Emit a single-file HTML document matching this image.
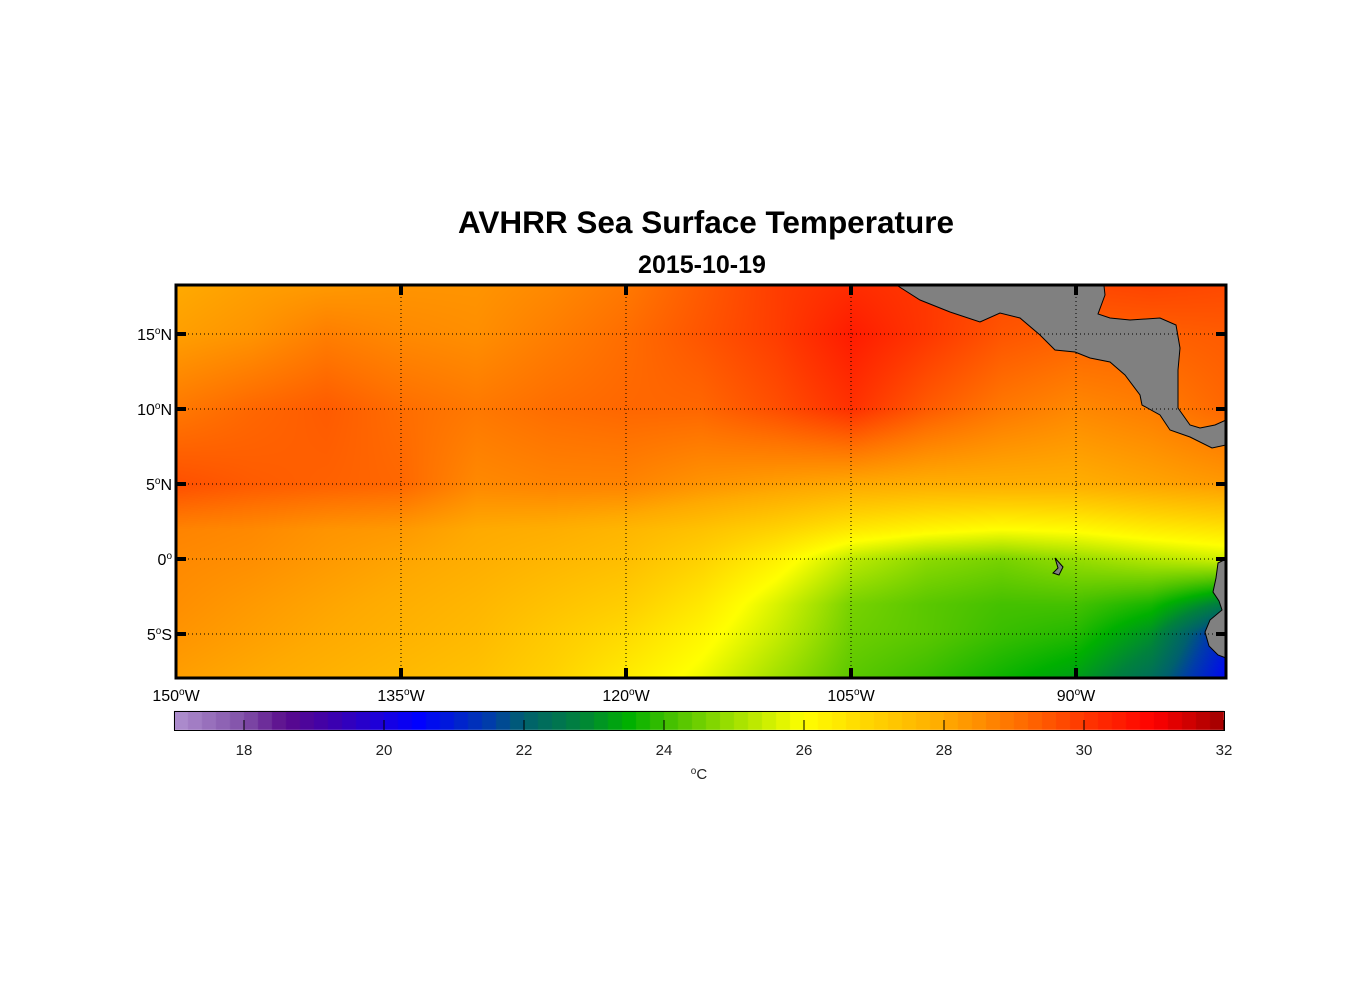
<!DOCTYPE html>
<html><head><meta charset="utf-8">
<style>
html,body{margin:0;padding:0;background:#fff;}
body{width:1356px;height:1000px;position:relative;overflow:hidden;font-family:"Liberation Sans",Arial,sans-serif;}
#title{position:absolute;left:0;width:1412px;top:204px;text-align:center;font-size:31.5px;font-weight:bold;color:#000;}
#subtitle{position:absolute;left:0;width:1404px;top:251px;text-align:center;font-size:25px;font-weight:bold;color:#000;}
canvas{position:absolute;left:0;top:0;}
svg{position:absolute;left:0;top:0;}
</style></head>
<body>
<div id="title">AVHRR Sea Surface Temperature</div>
<div id="subtitle">2015-10-19</div>
<canvas id="map" width="1356" height="1000"></canvas>
<svg id="ov" width="1356" height="1000"></svg>
<script>
// Data grid: longitudes (deg W), latitudes (deg N), SST values (°C)
const lons = [150,145,140,135,130,125,120,115,110,105,100,95,90,85,80];
const lats = [18.3,15,10,5,2,0,-3,-5,-8];
const row18 = [28.0,28.2,28.3,28.4,28.4,28.6,28.9,29.4,29.9,30.2,30.0,29.7,29.7,29.8,29.7];
const row15 = [28.2,28.4,28.8,28.6,28.5,28.8,29.1,29.5,29.9,30.5,30.0,29.5,29.3,29.3,29.4];
const row10 = [28.9,29.2,29.4,29.1,28.9,29.1,29.2,29.2,29.6,30.1,29.4,28.9,28.6,28.8,29.2];
const row5  = [29.6,29.4,29.3,29.2,28.6,28.7,28.7,28.4,28.2,28.0,27.9,27.9,27.9,28.1,28.3];
const row2  = [28.7,28.6,28.4,28.3,28.0,27.9,27.7,27.4,27.0,26.5,26.2,26.0,26.1,26.4,26.6];
const row0  = [28.6,28.5,28.3,28.1,27.9,27.7,27.5,27.0,26.3,25.3,24.8,24.6,24.9,25.2,25.5];
const rowS3 = [28.5,28.3,28.1,27.9,27.7,27.4,27.1,26.5,25.6,24.6,24.3,24.1,24.1,23.7,22.6];
const rowS5 = [28.4,28.2,28.0,27.8,27.6,27.2,26.8,26.2,25.4,24.5,24.3,24.0,23.8,23.0,21.0];
const rowS8 = [28.2,28.0,27.8,27.6,27.4,27.0,26.4,25.8,25.0,24.3,24.0,23.6,23.2,22.3,20.6];
const sst = [row18,row15,row10,row5,row2,row0,rowS3,rowS5,rowS8];
const cbTicks = [18,20,22,24,26,28,30,32];
const lonTicks = [150,135,120,105,90];
const latTicks = [15,10,5,0,-5];

// axis functions
const X0=176, X1=1226, Y0=285, Y1=678;
const xOf = lw => X0 + (150-lw)*15;
const yOf = la => 559 - la*15;
const cbX = v => 174 + (v-17)*70;

const stops=[[17,[176,144,208]],[18,[128,80,168]],[18.6,[90,10,140]],[19.2,[64,0,170]],[20.5,[0,0,255]],[21.5,[0,60,170]],[22,[0,96,110]],[22.8,[0,130,60]],[23.5,[0,176,0]],[24.2,[80,196,0]],[25,[160,224,0]],[26,[255,255,0]],[27,[255,210,0]],[28,[255,170,0]],[29,[255,115,0]],[30,[255,55,0]],[31,[255,0,0]],[32,[160,0,0]]];
function cmap(v){
  if(v<=stops[0][0])return stops[0][1];
  for(let i=1;i<stops.length;i++){if(v<=stops[i][0]){const a=stops[i-1],b=stops[i];const t=(v-a[0])/(b[0]-a[0]);return [0,1,2].map(k=>Math.round(a[1][k]+(b[1][k]-a[1][k])*t));}}
  return stops[stops.length-1][1];
}
function findIdx(arr,v){
  for(let i=0;i<arr.length-1;i++){const a=arr[i],b=arr[i+1];if(v<=a&&v>=b)return [i,(a-v)/(a-b)];}
  return v>arr[0]?[0,0]:[arr.length-2,1];
}
const cv=document.getElementById('map');const ctx=cv.getContext('2d');
const W=X1-X0,H=Y1-Y0;const img=ctx.createImageData(W,H);
for(let py=0;py<H;py++){
  const la=(559-(Y0+py))/15;const [j,ty]=findIdx(lats,la);
  for(let px=0;px<W;px++){
    const lw=150-px/15;const [i,tx]=findIdx(lons,lw);
    const v=(sst[j][i]*(1-tx)+sst[j][i+1]*tx)*(1-ty)+(sst[j+1][i]*(1-tx)+sst[j+1][i+1]*tx)*ty;
    const c=cmap(v);const o=(py*W+px)*4;img.data[o]=c[0];img.data[o+1]=c[1];img.data[o+2]=c[2];img.data[o+3]=255;
  }
}
ctx.putImageData(img,X0,Y0);
// colorbar (discrete bands)
for(let k=0;k<75;k++){const v=17+k*0.2;const c=cmap(v+0.1);ctx.fillStyle=`rgb(${c})`;const x0=Math.round(cbX(v)),x1=Math.round(cbX(v+0.2));ctx.fillRect(x0,711,x1-x0,19);}

const svg=document.getElementById('ov');const NS='http://www.w3.org/2000/svg';
function mk(tag,attrs,name,parent){const e=document.createElementNS(NS,tag);for(const k in attrs)e.setAttribute(k,attrs[k]);


(parent||svg).appendChild(e);return e;}
// land
mk('path',{d:'M898,286 L920,300 L950,312 L980,322 L1000,313 L1020,318 L1040,335 L1055,350 L1075,352 L1090,358 L1110,362 L1125,375 L1140,395 L1142,405 L1160,415 L1170,430 L1190,437 L1212,448 L1226,445 L1226,420 L1215,425 L1200,428 L1190,425 L1178,408 L1178,370 L1180,348 L1176,325 L1160,318 L1130,320 L1110,318 L1098,314 L1105,295 L1104,286 Z',fill:'#808080',stroke:'#000','stroke-width':1},'central-america-land');
mk('path',{d:'M1226,559 L1218,563 L1216,578 L1213,592 L1219,601 L1222,610 L1210,620 L1205,632 L1209,646 L1218,655 L1226,658 Z',fill:'#808080',stroke:'#000','stroke-width':1},'south-america-land');
mk('path',{d:'M1055,558 L1063,567 L1059,575 L1053,573 L1058,568 Z',fill:'#808080',stroke:'#000','stroke-width':1},'galapagos-land');
// grid
lonTicks.slice(1).forEach(l=>{mk('line',{x1:xOf(l),x2:xOf(l),y1:Y0,y2:Y1,stroke:'#000','stroke-width':1,'stroke-dasharray':'1,3'},'lon-gridline');});
latTicks.forEach(l=>{mk('line',{x1:X0,x2:X1,y1:yOf(l),y2:yOf(l),stroke:'#000','stroke-width':1,'stroke-dasharray':'1,3'},'lat-gridline');});
// frame
mk('rect',{x:X0,y:Y0,width:W,height:H,fill:'none',stroke:'#000','stroke-width':3},'map-frame');
lonTicks.slice(1).forEach(l=>{mk('line',{x1:xOf(l),x2:xOf(l),y1:Y0,y2:Y0+10,stroke:'#000','stroke-width':4},'lon-tick');mk('line',{x1:xOf(l),x2:xOf(l),y1:Y1-10,y2:Y1,stroke:'#000','stroke-width':4},'lon-tick');});
latTicks.forEach(l=>{mk('line',{x1:X0,x2:X0+10,y1:yOf(l),y2:yOf(l),stroke:'#000','stroke-width':4},'lat-tick');mk('line',{x1:X1-10,x2:X1,y1:yOf(l),y2:yOf(l),stroke:'#000','stroke-width':4},'lat-tick');});
// labels
lonTicks.forEach(l=>{const t=mk('text',{x:xOf(l),y:701,'text-anchor':'middle','font-size':16,'font-family':'Liberation Sans, sans-serif'},'lon-label');
 t.innerHTML=l+'<tspan dy="-6" font-size="10">o</tspan><tspan dy="6">W</tspan>';});
latTicks.forEach(l=>{const t=mk('text',{x:X0-4,y:yOf(l)+6,'text-anchor':'end','font-size':16,'font-family':'Liberation Sans, sans-serif'},'lat-label');
 const s=l>0?'N':(l<0?'S':'');t.innerHTML=Math.abs(l)+'<tspan dy="-6" font-size="10">o</tspan><tspan dy="6">'+s+'</tspan>';});
// colorbar frame + ticks + labels
mk('rect',{x:174.5,y:711.5,width:1050,height:19,fill:'none',stroke:'#000','stroke-width':1},'colorbar-frame');
cbTicks.forEach(v=>{mk('line',{x1:cbX(v),x2:cbX(v),y1:720,y2:730,stroke:'#000','stroke-width':1},'colorbar-tick');
 const t=mk('text',{x:cbX(v),y:755,'text-anchor':'middle','font-size':15,fill:'#222','font-family':'Liberation Sans, sans-serif'},'colorbar-label');t.textContent=v;});
const u=mk('text',{x:699,y:779,'text-anchor':'middle','font-size':15,fill:'#222','font-family':'Liberation Sans, sans-serif'},'colorbar-unit');u.innerHTML='<tspan dy="-5" font-size="10">o</tspan><tspan dy="5">C</tspan>';
</script>
</body></html>
